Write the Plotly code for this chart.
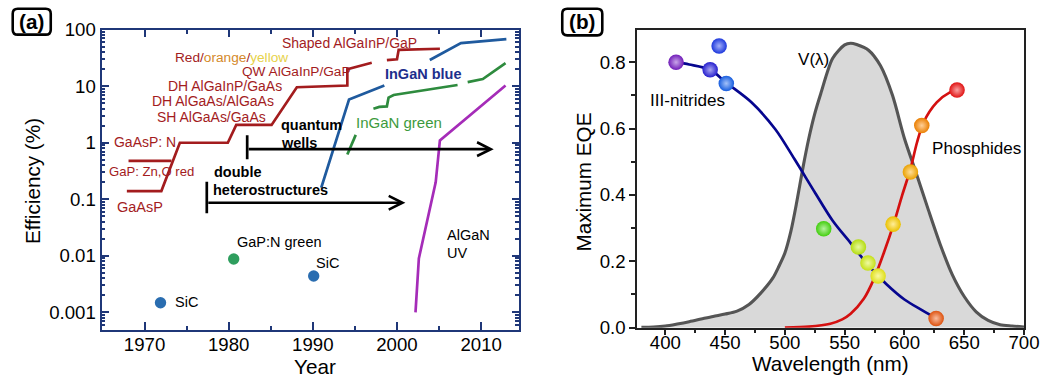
import math
import plotly.graph_objects as go

# Target picture size and the measured mapping from figure pixels to picture pixels
PIC_W, PIC_H = 1047, 377
SX, SY, OY = 0.984, 0.948, 9.6
W = int(round(PIC_W / SX))
H = int(round((PIC_H - OY) / SY))
K = (SX * SY) ** 0.5  # average scale used for font sizes / line widths
FONT = "Arial, 'Liberation Sans', sans-serif"

# ---------------- Panel (a) data ----------------
red_gap_years = [1968.1, 1973.2]
red_gap_eff = [0.48, 0.48]
red_years = [1967.9, 1972.0, 1974.2, 1979.9, 1980.9, 1985.1, 1988.1, 1994.1, 1994.1, 1997.0,
             None, 1998.8, 2000.0, 2000.2, 2005.1]
red_eff = [0.14, 0.14, 1.0, 1.0, 2.07, 2.07, 9.6, 10.3, 20, 26,
           None, 29, 30, 44, 46]
blue_years = [1991.0, 1994.3, 1998.5, None, 2003.9, 2007.6, 2013.0]
blue_eff = [0.16, 5.8, 10.3, None, 29, 58, 68]
green_years = [1994.1, 1995.1, None, 1997.2, 1997.9, 1998.8, 1999.0, 1999.6, 2007.2,
               None, 2008.4, 2010.2, 2012.9]
green_eff = [0.62, 1.38, None, 4.0, 4.3, 4.4, 6.3, 7.0, 10.5,
             None, 11.8, 13.4, 25.5]
uv_years = [2002.2, 2002.6, 2004.6, 2005.1, 2012.9]
uv_eff = [0.001, 0.009, 0.2, 1.1, 10.3]
dot_years = [1971.9, 1980.6, 1990.1]
dot_eff = [0.00148, 0.0088, 0.0044]
dot_colors = ["#2a6db0", "#2e9e5e", "#2a6db0"]

qw_years = [1982.2, 2011.5]
qw_eff = 0.77
qw_bar = [0.51, 1.36]
dh_years = [1977.4, 2001.0]
dh_eff = 0.087
dh_bar = [0.057, 0.205]

a_yticks = [0.001, 0.01, 0.1, 1, 10, 100]
a_yticklabels = ["0.001", "0.01", "0.1", "1", "10", "100"]
a_xticks = [1970, 1980, 1990, 2000, 2010]

# ---------------- Panel (b) data ----------------
v_wl = [380, 390, 400, 410, 420, 430, 440, 450, 460, 470, 480, 490, 495, 500, 505, 510, 515,
        520, 525, 530, 540, 550, 555, 560, 570, 580, 590, 600, 610, 620, 630, 640, 650, 660,
        670, 680, 690, 700]
v_val = [0.001, 0.002, 0.005, 0.011, 0.018, 0.026, 0.034, 0.041, 0.050, 0.070, 0.105, 0.150,
         0.185, 0.225, 0.290, 0.380, 0.480, 0.570, 0.645, 0.705, 0.812, 0.852, 0.857, 0.853,
         0.836, 0.789, 0.700, 0.570, 0.464, 0.355, 0.250, 0.160, 0.094, 0.048, 0.022, 0.009,
         0.005, 0.002]

nit_wl = [409, 420, 437.5, 451, 472, 492, 508, 525, 540, 555, 570, 585, 600, 615, 626.5]
nit_eqe = [0.800, 0.793, 0.777, 0.738, 0.679, 0.598, 0.508, 0.408, 0.322, 0.255, 0.187,
           0.131, 0.085, 0.052, 0.028]
pho_wl = [500, 520, 538, 548, 555, 566, 574.5, 583, 591, 598, 605, 610.5, 616, 627, 638, 644]
pho_eqe = [0.0, 0.003, 0.012, 0.025, 0.042, 0.087, 0.147, 0.228, 0.313, 0.398, 0.478,
           0.558, 0.619, 0.679, 0.709, 0.716]

ball_wl = [409, 437.5, 445, 451, 532.5, 561.5, 569.5, 578, 626.5, 590.5, 605, 614.5, 644]
ball_eqe = [0.800, 0.777, 0.849, 0.736, 0.298, 0.243, 0.195, 0.156, 0.028, 0.312, 0.469,
            0.609, 0.716]
ball_colors = ["#7a1fc8", "#2a22e0", "#1f3cf0", "#1a66f2", "#48e010", "#c4f012", "#d8f41a",
               "#f2f21a", "#f25a10", "#ffd200", "#ffb000", "#ff8a00", "#f41414"]

b_xticks = [400, 450, 500, 550, 600, 650, 700]
b_yticks = [0.0, 0.2, 0.4, 0.6, 0.8]
b_yticklabels = ["0.0", "0.2", "0.4", "0.6", "0.8"]


def P(x, y):
    """picture pixel -> paper fraction of the figure"""
    return (x / SX) / W, 1 - ((y - OY) / SY) / H


def lighten(hexcol, f):
    h = hexcol.lstrip("#")
    r, g, b = (int(h[i:i + 2], 16) for i in (0, 2, 4))
    r, g, b = (int(c + (255 - c) * f) for c in (r, g, b))
    return "#%02x%02x%02x" % (r, g, b)


def darken(hexcol, f):
    h = hexcol.lstrip("#")
    r, g, b = (int(h[i:i + 2], 16) for i in (0, 2, 4))
    r, g, b = (int(c * (1 - f)) for c in (r, g, b))
    return "#%02x%02x%02x" % (r, g, b)


def s(v):
    return v / K


fig = go.Figure()

RED = "#a31c1e"
NAVY = "#1f3778"
LW = s(2.6)

for xs, ys, col in [(red_gap_years, red_gap_eff, RED), (red_years, red_eff, RED),
                    (blue_years, blue_eff, "#1f5a9e"), (green_years, green_eff, "#2e8b3e"),
                    (uv_years, uv_eff, "#a52cb8")]:
    fig.add_trace(go.Scatter(x=xs, y=ys, mode="lines", line=dict(color=col, width=LW),
                             connectgaps=False, xaxis="x", yaxis="y", hoverinfo="skip"))

fig.add_trace(go.Scatter(x=dot_years, y=dot_eff, mode="markers",
                         marker=dict(size=s(11), color=dot_colors, line=dict(width=0)),
                         xaxis="x", yaxis="y", hoverinfo="skip"))

for xb, bar in [(qw_years[0], qw_bar), (dh_years[0], dh_bar)]:
    fig.add_trace(go.Scatter(x=[xb, xb], y=bar, mode="lines", line=dict(color="black", width=LW),
                             xaxis="x", yaxis="y", hoverinfo="skip"))

annotations = []
for yrs, ev in [(qw_years, qw_eff), (dh_years, dh_eff)]:
    annotations.append(dict(x=yrs[1], y=math.log10(ev), ax=yrs[0], ay=math.log10(ev),
                            xref="x", yref="y", axref="x", ayref="y", text="",
                            showarrow=True, arrowhead=5, arrowsize=1, arrowwidth=LW,
                            arrowcolor="black", standoff=0, startstandoff=0))

fig.add_trace(go.Scatter(x=v_wl, y=v_val, mode="lines", fill="tozeroy", fillcolor="#d9d9d9",
                         line=dict(color="#555555", width=s(3), shape="spline", smoothing=0.8),
                         xaxis="x2", yaxis="y2", hoverinfo="skip"))
fig.add_trace(go.Scatter(x=nit_wl, y=nit_eqe, mode="lines",
                         line=dict(color="#06068f", width=LW, shape="spline", smoothing=0.9),
                         xaxis="x2", yaxis="y2", hoverinfo="skip"))
fig.add_trace(go.Scatter(x=pho_wl, y=pho_eqe, mode="lines",
                         line=dict(color="#d41010", width=LW, shape="spline", smoothing=0.8),
                         xaxis="x2", yaxis="y2", hoverinfo="skip"))
for wl, eq, col in zip(ball_wl, ball_eqe, ball_colors):
    fig.add_trace(go.Scatter(x=[wl], y=[eq], mode="markers",
                             marker=dict(size=s(15), color=darken(col, 0.08), line=dict(width=0),
                                         gradient=dict(type="radial", color=lighten(col, 0.6))),
                             xaxis="x2", yaxis="y2", hoverinfo="skip", cliponaxis=False))


def txt(x, y, t, size=14, color="black", bold=False, anchor="left", angle=0):
    px, py = P(x, y)
    if bold:
        t = "<b>" + t + "</b>"
    annotations.append(dict(x=px, y=py, xref="paper", yref="paper", text=t, showarrow=False,
                            xanchor=anchor, yanchor="middle", textangle=angle,
                            font=dict(family=FONT, size=s(size), color=color)))

txt(280, 43, "Shaped AlGaInP/GaP", 13.5, RED)
txt(172.7, 57, "Red/<span style='color:#d4892a'>orange</span>/<span style='color:#e6d24a'>yellow</span>", 13.2, RED)
txt(240, 71.5, "QW AlGaInP/GaP", 13.2, RED)
txt(165.7, 85.5, "DH AlGaInP/GaAs", 13.5, RED)
txt(150, 100.5, "DH AlGaAs/AlGaAs", 13.5, RED)
txt(155, 117.3, "SH AlGaAs/GaAs", 13.5, RED)
txt(111.7, 142, "GaAsP: N", 13.5, RED)
txt(107.3, 171.7, "GaP: Zn,O red", 12.7, RED)
txt(115, 206.7, "GaAsP", 14, RED)
txt(278.3, 125, "quantum", 14, "black", True)
txt(278.3, 142.7, "wells", 14, "black", True)
txt(211.7, 172.3, "double", 14, "black", True)
txt(211.0, 190, "heterostructures", 14, "black", True)
txt(382.7, 73.3, "InGaN blue", 14, "#1d2f8c", True)
txt(354, 122.7, "InGaN green", 14.5, "#3d9a3d")
txt(445, 235, "AlGaN", 14)
txt(445, 252.7, "UV", 14)
txt(235, 241.7, "GaP:N green", 14)
txt(313.3, 263.3, "SiC", 14)
txt(173.3, 302.7, "SiC", 14)

txt(647.3, 100.7, "III-nitrides", 16.5)
txt(795.7, 59, "V(λ)", 16.5)
txt(929, 148, "Phosphides", 16.5)

txt(315, 366.5, "Year", 20, anchor="center")
txt(32, 181, "Efficiency (%)", 20, anchor="center", angle=-90)
txt(830, 364, "Wavelength (nm)", 20, anchor="center")
txt(583.3, 181.7, "Maximum EQE", 20, anchor="center", angle=-90)

txt(31.7, 21.3, "(a)", 20, bold=True, anchor="center")
txt(581.7, 21.5, "(b)", 20, bold=True, anchor="center")

shapes = []
for (x0, y0, x1, y1) in [(12.7, 8.3, 50.7, 34.3), (561.7, 8.3, 601.7, 35.0)]:
    r = 5

    def q(x, y):
        a, b = P(x, y)
        return "%.5f,%.5f" % (a, b)
    path = ("M " + q(x0 + r, y0) + " L " + q(x1 - r, y0) + " Q " + q(x1, y0) + " " + q(x1, y0 + r) +
            " L " + q(x1, y1 - r) + " Q " + q(x1, y1) + " " + q(x1 - r, y1) +
            " L " + q(x0 + r, y1) + " Q " + q(x0, y1) + " " + q(x0, y1 - r) +
            " L " + q(x0, y0 + r) + " Q " + q(x0, y0) + " " + q(x0 + r, y0) + " Z")
    shapes.append(dict(type="path", path=path, xref="paper", yref="paper",
                       line=dict(color="black", width=s(2.5))))

tickfont = dict(family=FONT, size=s(18), color="black")


def dom_x(x0, x1):
    return [P(x0, 0)[0], P(x1, 0)[0]]


def dom_y(y_bottom, y_top):
    return [P(0, y_bottom)[1], P(0, y_top)[1]]


fig.update_layout(
    width=W, height=H, margin=dict(l=0, r=0, t=0, b=0), autosize=False,
    paper_bgcolor="white", plot_bgcolor="white", showlegend=False,
    font=dict(family=FONT, color="black"),
    xaxis=dict(domain=dom_x(101.5, 518.5), range=[1964.9, 2014.5], tickvals=a_xticks,
               ticks="inside", ticklen=s(7), tickwidth=s(2), tickcolor=NAVY,
               showline=True, linecolor=NAVY, linewidth=s(2), mirror="ticks",
               showgrid=False, zeroline=False, tickfont=tickfont, ticklabelstandoff=-3,
               minor=dict(dtick=5, tick0=1965, ticks="inside", ticklen=s(4), tickwidth=s(1.5),
                          tickcolor=NAVY, showgrid=False),
               anchor="y"),
    yaxis=dict(domain=dom_y(330, 29.3), type="log", range=[-3.305, 2.0], tickvals=a_yticks,
               ticktext=a_yticklabels, ticks="inside", ticklen=s(7), tickwidth=s(2),
               tickcolor=NAVY, showline=True, linecolor=NAVY, linewidth=s(2), mirror="ticks",
               showgrid=False, zeroline=False, tickfont=tickfont,
               minor=dict(dtick="D1", ticks="inside", ticklen=s(3.5), tickwidth=s(1.5),
                          tickcolor=NAVY, showgrid=False),
               anchor="x"),
    xaxis2=dict(domain=dom_x(636, 1023), range=[376, 700], tickvals=b_xticks,
                ticks="outside", ticklen=s(5), tickwidth=s(2), tickcolor="#222222",
                showline=True, linecolor="#222222", linewidth=s(2), mirror=True,
                showgrid=False, zeroline=False, tickfont=tickfont, ticklabelstandoff=-8,
                minor=dict(dtick=25, tick0=375, ticks="outside", ticklen=s(3), tickwidth=s(1.5),
                           tickcolor="#222222", showgrid=False),
                anchor="y2"),
    yaxis2=dict(domain=dom_y(328, 29.3), range=[0, 0.898], tickvals=b_yticks,
                ticktext=b_yticklabels,
                ticks="outside", ticklen=s(5), tickwidth=s(2), tickcolor="#222222",
                showline=True, linecolor="#222222", linewidth=s(2), mirror=True,
                showgrid=False, zeroline=False, tickfont=tickfont,
                minor=dict(dtick=0.1, ticks="outside", ticklen=s(3), tickwidth=s(1.5),
                           tickcolor="#222222", showgrid=False),
                anchor="x2"),
    annotations=annotations, shapes=shapes,
)

fig.write_html("out.html", config={"displayModeBar": False})
